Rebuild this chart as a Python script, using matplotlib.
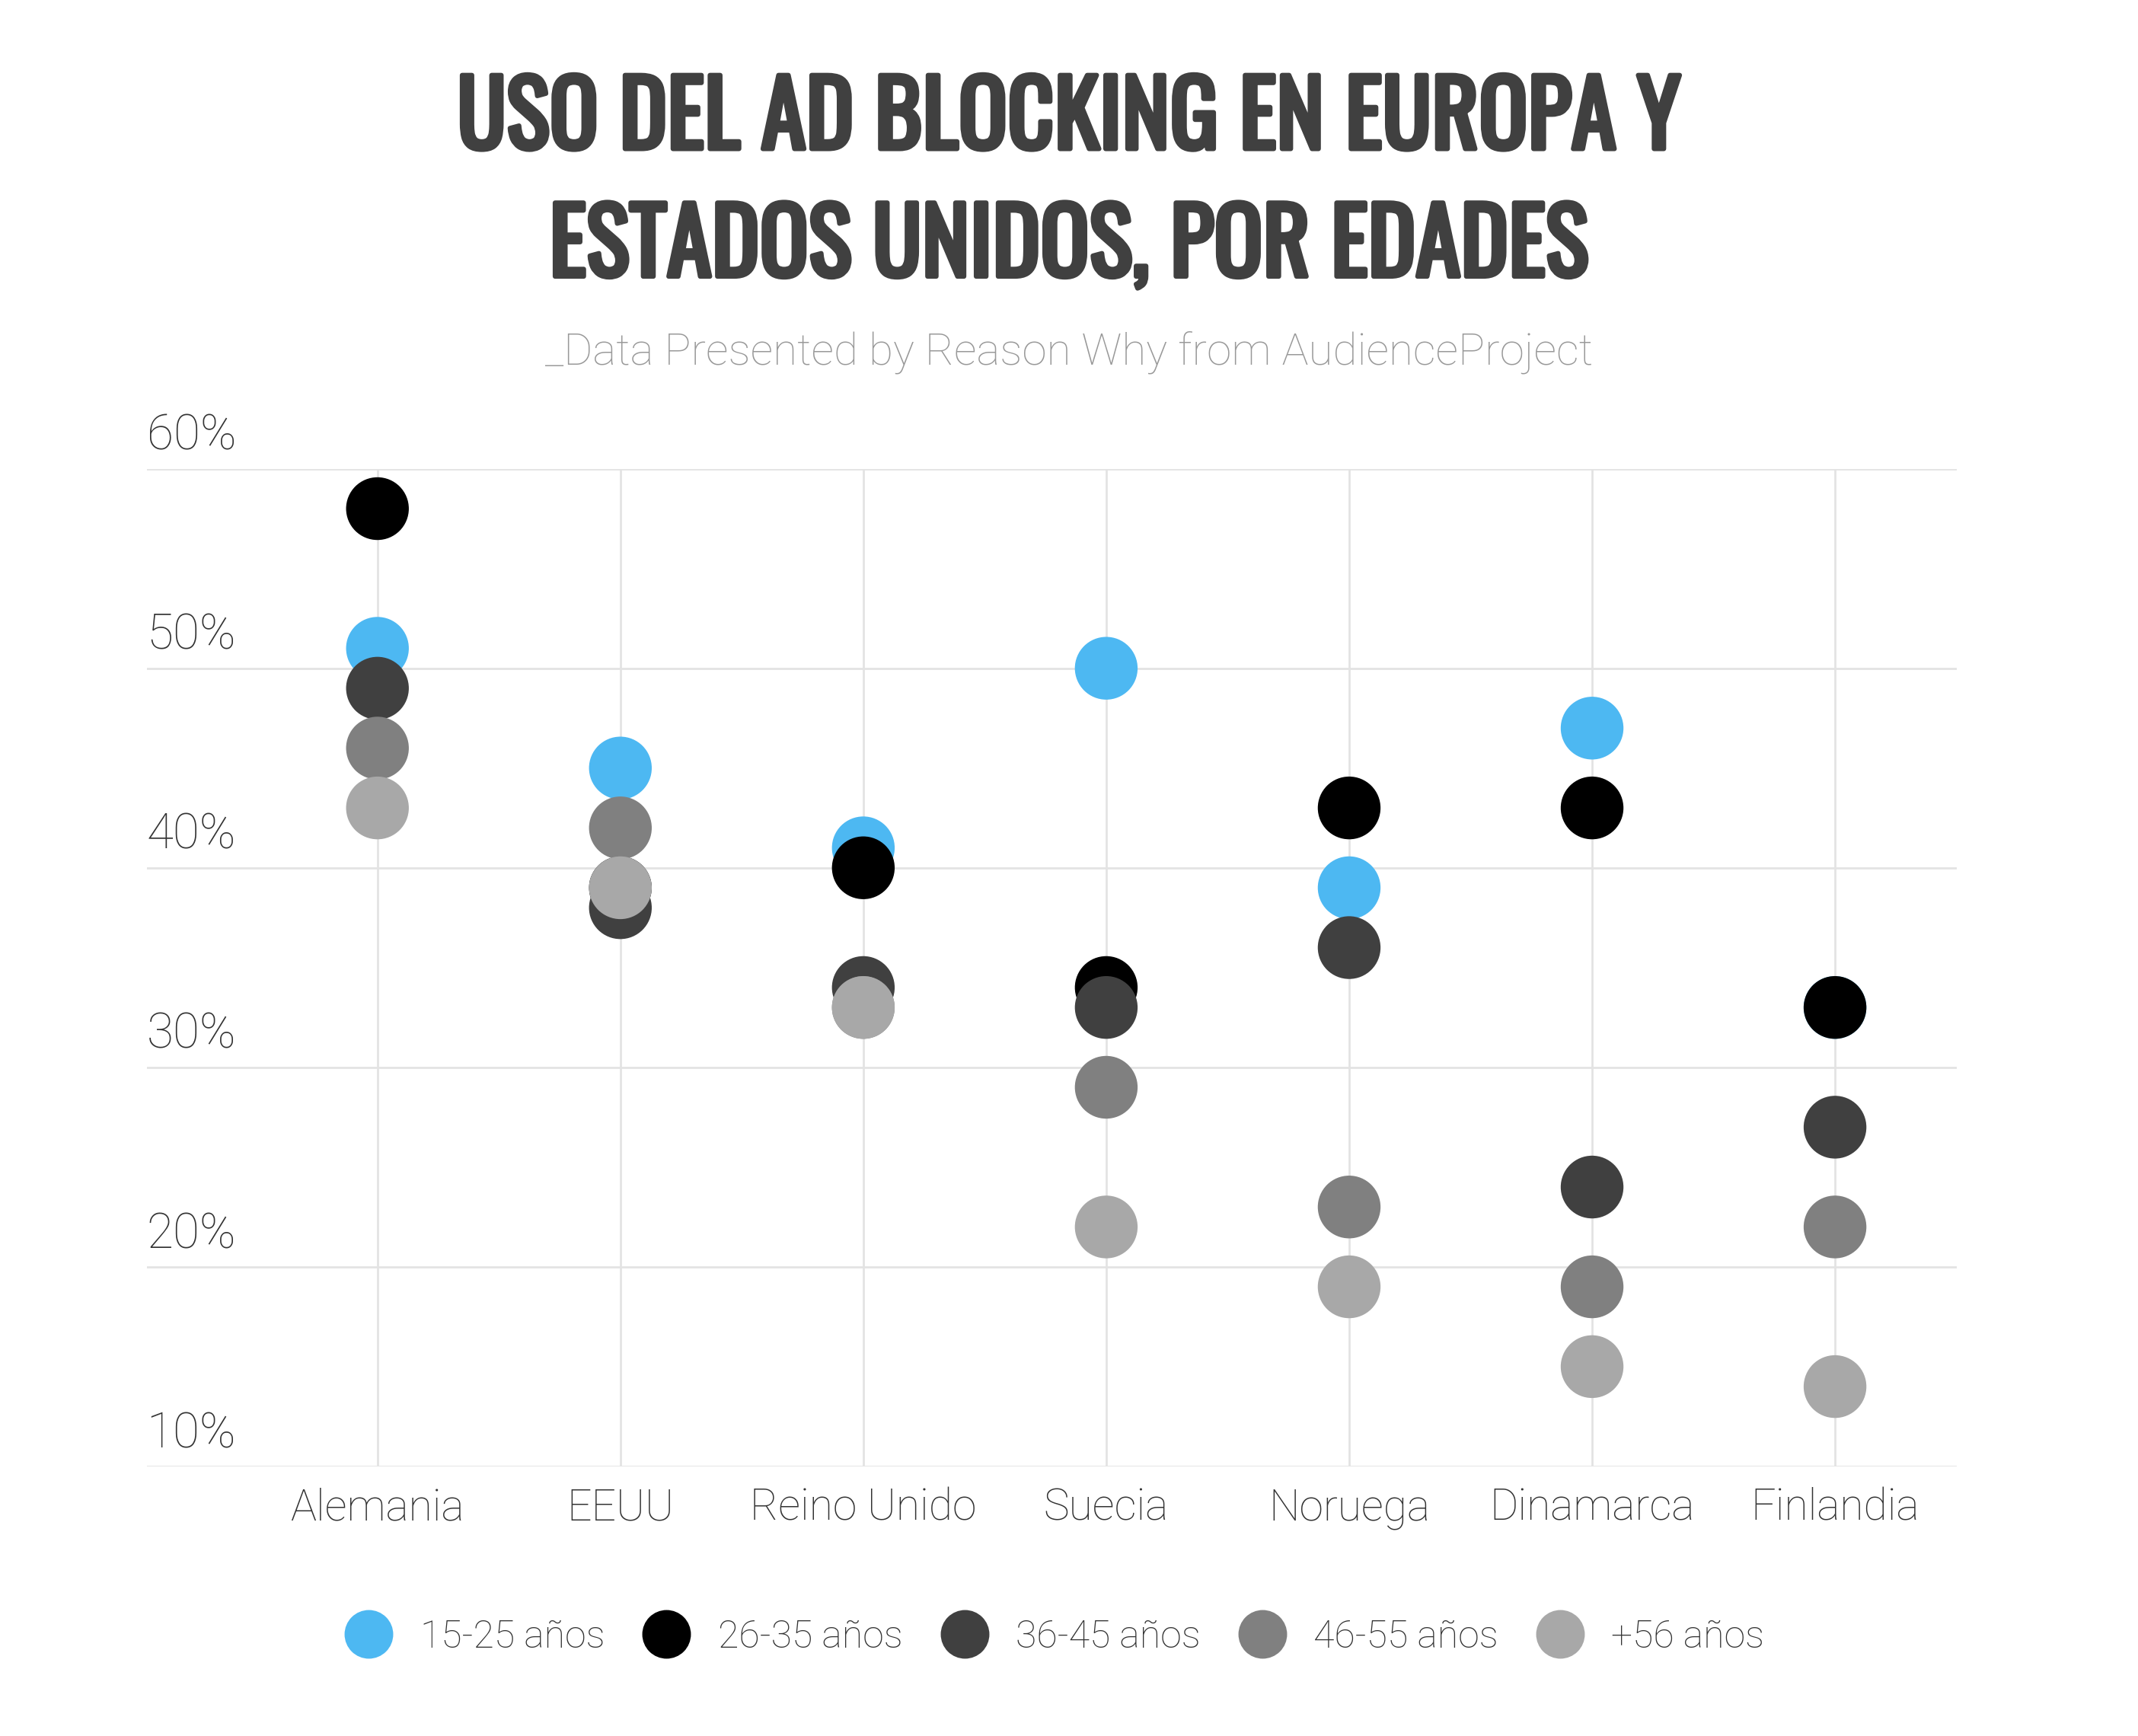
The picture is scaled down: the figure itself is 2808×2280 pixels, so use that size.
import matplotlib
matplotlib.use("Agg")
from matplotlib import pyplot as plt
from matplotlib import patheffects
from matplotlib.lines import Line2D
from matplotlib.transforms import blended_transform_factory

countries = ["Alemania", "EEUU", "Reino Unido", "Suecia", "Noruega", "Dinamarca", "Finlandia"]
age_groups = ["15-25 años", "26-35 años", "36-45 años", "46-55 años", "+56 años"]
colors = ["#4DB8F2", "#000000", "#404040", "#808080", "#A8A8A8"]

# percentages per age group, one value per country (hidden dots sit under later ones)
age_15_25 = [51, 45, 41, 50, 39, 47, 33]
age_26_35 = [58, 39, 40, 34, 43, 43, 33]
age_36_45 = [49, 38, 34, 33, 36, 24, 27]
age_46_55 = [46, 42, 33, 29, 23, 19, 22]
age_56_plus = [43, 39, 33, 22, 19, 15, 14]
series = [age_15_25, age_26_35, age_36_45, age_46_55, age_56_plus]

y_ticks = [10, 20, 30, 40, 50, 60]
y_labels = ["10%", "20%", "30%", "40%", "50%", "60%"]

text_color = "#333333"
light_font = ["Roboto", "DejaVu Sans"]
title_font = ["Oswald", "DejaVu Sans"]

fig = plt.figure(figsize=(14.04, 11.4), dpi=200)
ax = fig.add_axes([0.0686, 0.1553, 0.8465, 0.5747])

x = list(range(len(countries)))
for vals, col in zip(series, colors):
    ax.scatter(x, vals, s=880, color=col, edgecolors="none", zorder=3, clip_on=False)

ax.set_xlim(-0.95, 6.5)
ax.set_ylim(10, 60)
ax.set_xticks(x)
ax.set_xticklabels(countries, family=light_font, fontweight="light", fontsize=20.5, color=text_color)
ax.set_yticks(y_ticks)
ax.set_yticklabels([])
ax.tick_params(axis="both", length=0)
ax.tick_params(axis="x", pad=10)
ax.grid(True, color="#E3E3E3", linewidth=1.0)
ax.set_axisbelow(True)
for sp in ax.spines.values():
    sp.set_visible(False)

tr = blended_transform_factory(ax.transAxes, ax.transData)
for v, lab in zip(y_ticks, y_labels):
    ax.text(0.0, v + 0.45, lab, transform=tr, ha="left", va="bottom",
            family=light_font, fontweight="light", fontsize=23, color=text_color)

bold = [patheffects.withStroke(linewidth=2.2, foreground="#404040")]
fig.text(0.5, 0.9305, "USO DEL AD BLOCKING EN EUROPA Y", ha="center", va="center",
         family=title_font, fontsize=43, color="#404040", path_effects=bold)
fig.text(0.5, 0.857, "ESTADOS UNIDOS, POR EDADES", ha="center", va="center",
         family=title_font, fontsize=43, color="#404040", path_effects=bold)
fig.text(0.5, 0.797, "_Data Presented by Reason Why from AudienceProject", ha="center", va="center",
         family=light_font, fontweight="light", fontsize=21, color="#999999")

handles = [Line2D([], [], linestyle="none", marker="o", markersize=23,
                  markerfacecolor=c, markeredgecolor="none") for c in colors]
leg = fig.legend(handles, age_groups, loc="center", bbox_to_anchor=(0.49, 0.057), ncol=5,
                 frameon=False, handletextpad=0.35, columnspacing=0.62,
                 prop={"family": light_font, "weight": "light", "size": 18})
for t in leg.get_texts():
    t.set_color(text_color)

fig.savefig("out.png", dpi=200, facecolor="white")
